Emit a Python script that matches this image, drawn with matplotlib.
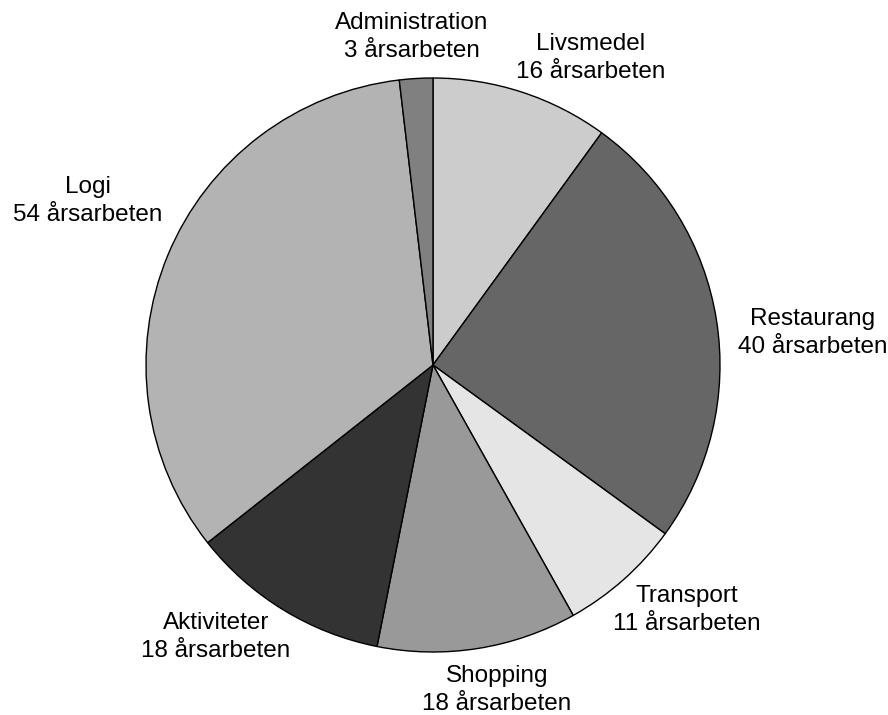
import matplotlib
matplotlib.use("Agg")
import matplotlib.pyplot as plt

# data
categories = ["Livsmedel", "Restaurang", "Transport", "Shopping",
              "Aktiviteter", "Logi", "Administration"]
values = [16, 40, 11, 18, 18, 54, 3]
colors = ["#cccccc", "#666666", "#e5e5e5", "#999999",
          "#333333", "#b3b3b3", "#808080"]

# label positions (pixels from top-left, centre of the two-line text)
label_pos = [(591, 58), (813, 333), (687, 610), (497, 690),
             (216, 637), (88, 201), (412, 37)]

plt.rcParams['font.family'] = ['Liberation Sans', 'DejaVu Sans']

W, H = 888, 715
fig = plt.figure(figsize=(W / 100, H / 100), dpi=100)
ax = fig.add_axes([0, 0, 1, 1])

ax.pie(values, colors=colors, startangle=90, counterclock=False,
       center=(433, H - 365), radius=287,
       wedgeprops=dict(edgecolor="black", linewidth=1.0))

ax.set_xlim(0, W)
ax.set_ylim(0, H)
ax.set_aspect("equal")
ax.axis("off")

for name, v, (x, y) in zip(categories, values, label_pos):
    ax.text(x, H - y, "%s\n%d årsarbeten" % (name, v), ha="center", va="center",
            fontsize=17.5, linespacing=1.3)

fig.savefig("out.png", dpi=100)
